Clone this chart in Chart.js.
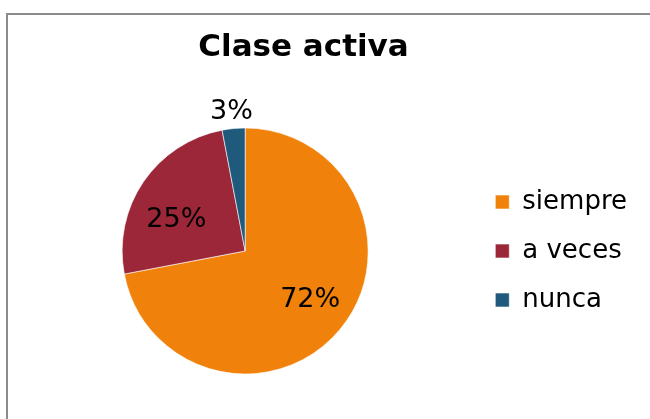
<!DOCTYPE html>
<html>
<head>
<meta charset="utf-8">
<script src="https://cdn.jsdelivr.net/npm/chart.js@4/dist/chart.umd.min.js"></script>
<style>
  html, body { margin: 0; padding: 0; background: #fff; overflow: hidden; }
  #wrap { position: relative; width: 650px; height: 419px; overflow: hidden; }
  #frame { position: absolute; left: 6px; top: 13px; width: 800px; height: 600px; border: 2px solid #8c8c8c; box-sizing: border-box; }
  canvas { position: absolute; left: 0; top: 0; }
</style>
</head>
<body>
<div id="wrap">
  <div id="frame"></div>
  <canvas id="c" width="650" height="419"></canvas>
</div>
<script>
const chartTitle = "Clase activa";
const categories = ["siempre", "a veces", "nunca"];
const values = [72, 25, 3];
const sliceColors = ["#F0820B", "#9C2738", "#1F5A7D"];

// percentage data labels, placed from each arc's own geometry
const pieLabels = {
  id: 'pieLabels',
  afterDatasetsDraw(chart, args, opts) {
    const ctx = chart.ctx;
    const meta = chart.getDatasetMeta(0);
    const data = chart.data.datasets[0].data;
    const total = data.reduce((a, b) => a + b, 0);
    ctx.save();
    ctx.font = opts.font;
    ctx.fillStyle = opts.color;
    ctx.textAlign = 'center';
    ctx.textBaseline = 'alphabetic';
    meta.data.forEach((arc, i) => {
      const p = arc.getProps(['x', 'y', 'startAngle', 'endAngle', 'outerRadius'], true);
      const frac = data[i] / total;
      const outside = frac < 0.05;
      const mid = (p.startAngle + p.endAngle) / 2 + (outside ? 0 : opts.insideShift);
      const dist = outside ? p.outerRadius + opts.outsideGap : p.outerRadius * opts.insideRatio;
      ctx.fillText(Math.round(frac * 100) + '%',
        p.x + Math.cos(mid) * dist,
        p.y + Math.sin(mid) * dist + opts.baselineDrop);
    });
    ctx.restore();
  }
};

new Chart(document.getElementById('c'), {
  type: 'pie',
  data: {
    labels: categories,
    datasets: [{
      data: values,
      backgroundColor: sliceColors,
      borderColor: 'rgba(255,255,255,0.6)',
      borderWidth: 1,
      radius: 123
    }]
  },
  options: {
    responsive: false,
    animation: false,
    layout: { padding: { left: -30, right: 13, top: 10, bottom: 0 } },
    plugins: {
      tooltip: { enabled: false },
      pieLabels: {
        font: '27px "DejaVu Sans"',
        color: '#000',
        insideRatio: 0.635,
        insideShift: -6 * Math.PI / 180,
        outsideGap: 22.7,
        baselineDrop: 13
      },
      title: {
        display: true,
        text: chartTitle,
        color: '#000',
        font: { family: '"DejaVu Sans"', size: 31, weight: 'bold', lineHeight: 1.2 },
        padding: { top: 19.4, bottom: 16.4 }
      },
      subtitle: {
        // empty left-hand spacer so the title sits over the whole frame
        display: true,
        text: '',
        position: 'left',
        font: { size: 10, lineHeight: 1 },
        padding: { top: 19, bottom: 19 }
      },
      legend: {
        display: true,
        position: 'right',
        align: 'center',
        fullSize: false,
        labels: {
          color: '#000',
          font: { family: '"DejaVu Sans"', size: 26 },
          boxWidth: 14,
          boxHeight: 14,
          padding: 23
        }
      }
    }
  },
  plugins: [pieLabels]
});
</script>
</body>
</html>
